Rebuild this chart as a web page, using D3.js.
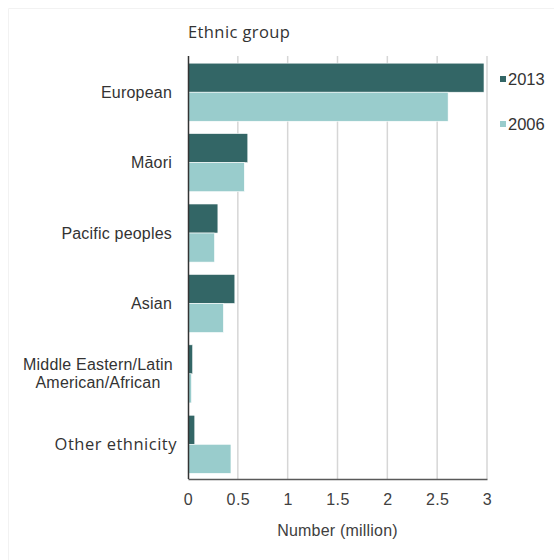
<!DOCTYPE html>
<html lang="en">
<head>
<meta charset="UTF-8">
<title>Ethnic group, 2006 and 2013</title>
<script src="https://d3js.org/d3.v7.min.js"></script>
<style>
  body { margin: 0; background: #fff; }
  svg { display: block; }
</style>
</head>
<body>
<svg id="chart"></svg>
<script>
// data (million people)
const groups = ["European", "Māori", "Pacific peoples", "Asian", "Middle Eastern/Latin\nAmerican/African", "Other ethnicity"];
const years = ["2013", "2006"];
const values2013 = [2.97, 0.60, 0.30, 0.47, 0.047, 0.068];
const values2006 = [2.61, 0.565, 0.266, 0.355, 0.035, 0.431];
const xTicks = [0, 0.5, 1, 1.5, 2, 2.5, 3];

const width = 554, height = 560;
const margin = {top: 57, right: 67, bottom: 81, left: 188};
const colors = {"2013": "#336666", "2006": "#99cccc"};
const font = "'Liberation Sans', Arial, sans-serif";
const font2 = "'Open Sans', 'Noto Sans', sans-serif";

const data = groups.map((g, i) => ({group: g, "2013": values2013[i], "2006": values2006[i]}));

const svg = d3.select("#chart").attr("width", width).attr("height", height);

// faint frame like the screenshot
svg.append("path")
   .attr("d", "M8.5,560 V8.5 H554")
   .attr("fill", "none")
   .attr("stroke", "#f2f2f2");

const x = d3.scaleLinear()
            .domain([0, 3])
            .range([margin.left, width - margin.right]);

const y = d3.scaleBand()
            .domain(groups)
            .range([margin.top, height - margin.bottom + 0.5])
            .paddingInner(0.175)
            .paddingOuter(0.0875);

const ySub = d3.scaleBand()
               .domain(years)
               .range([0, y.bandwidth()]);

// gridlines
svg.append("g")
   .selectAll("line")
   .data(xTicks.slice(1))
   .enter()
   .append("line")
   .attr("x1", d => x(d)).attr("x2", d => x(d))
   .attr("y1", margin.top - 1).attr("y2", height - margin.bottom)
   .attr("stroke", "#d6d6d6")
   .attr("stroke-width", 1.5);

// bars
const grp = svg.append("g")
   .selectAll("g")
   .data(data)
   .enter()
   .append("g")
   .attr("transform", d => `translate(0,${y(d.group)})`);

grp.selectAll("rect")
   .data(d => years.map(yr => ({year: yr, value: d[yr]})))
   .enter()
   .append("rect")
   .attr("x", x(0))
   .attr("y", d => ySub(d.year))
   .attr("width", d => x(d.value) - x(0))
   .attr("height", ySub.bandwidth())
   .attr("fill", d => colors[d.year])
   .attr("stroke", "#fff")
   .attr("stroke-width", 0.6);

// x axis
const xAxis = svg.append("g")
   .attr("transform", `translate(0,${height - margin.bottom})`)
   .call(d3.axisBottom(x).tickValues(xTicks).tickFormat(d3.format("~g"))
           .tickSizeInner(0).tickSizeOuter(0).tickPadding(15));
xAxis.select(".domain").attr("stroke", "#595959").attr("stroke-width", 1.5);
xAxis.selectAll("text")
   .attr("fill", "#404040")
   .style("font-family", font)
   .style("font-size", "16px")
   .style("letter-spacing", "0.4px");

// y axis
const yAxis = svg.append("g")
   .attr("transform", `translate(${margin.left},0)`)
   .call(d3.axisLeft(y).tickSize(0).tickSizeOuter(0).tickPadding(16).tickFormat(""));
yAxis.select(".domain").attr("stroke", "#333").attr("stroke-width", 1.5)
     .attr("d", `M0.5,${margin.top - 1}V${height - margin.bottom}`);

yAxis.selectAll(".tick").each(function(d) {
  const t = d3.select(this).select("text");
  const lines = d.split("\n");
  const last = d === "Other ethnicity";
  t.attr("fill", "#333")
   .attr("dy", null)
   .style("font-family", last ? font2 : font)
   .style("font-size", last ? "16.5px" : "16px")
   .style("letter-spacing", last ? "0.5px" : "0.2px");
  if (lines.length > 1) {
    t.attr("text-anchor", "middle").attr("x", -90);
    lines.forEach((l, i) => {
      t.append("tspan")
       .attr("x", -90)
       .attr("y", (i - (lines.length - 1) / 2) * 18)
       .attr("dy", "0.35em")
       .text(l);
    });
  } else {
    t.attr("x", last ? -11 : -16).attr("dy", "0.35em").text(d);
  }
});

// legend
const legend = svg.append("g")
   .selectAll("g")
   .data(years)
   .enter()
   .append("g")
   .attr("transform", (d, i) => `translate(500,${79 + i * 45})`);
legend.append("rect")
   .attr("x", 0).attr("y", -3)
   .attr("width", 6).attr("height", 6)
   .attr("fill", d => colors[d]);
legend.append("text")
   .attr("x", 8).attr("dy", "0.36em")
   .attr("fill", "#333")
   .style("font-family", font)
   .style("font-size", "16.5px")
   .text(d => d);

// titles
svg.append("text")
   .attr("x", 188).attr("y", 38)
   .attr("fill", "#333")
   .style("font-family", font2)
   .style("font-size", "16.5px")
   .style("letter-spacing", "0.4px")
   .text("Ethnic group");

svg.append("text")
   .attr("x", (x(0) + x(3)) / 2).attr("y", 536)
   .attr("text-anchor", "middle")
   .attr("fill", "#404040")
   .style("font-family", font)
   .style("font-size", "16px")
   .style("letter-spacing", "0.2px")
   .text("Number (million)");
</script>
</body>
</html>
